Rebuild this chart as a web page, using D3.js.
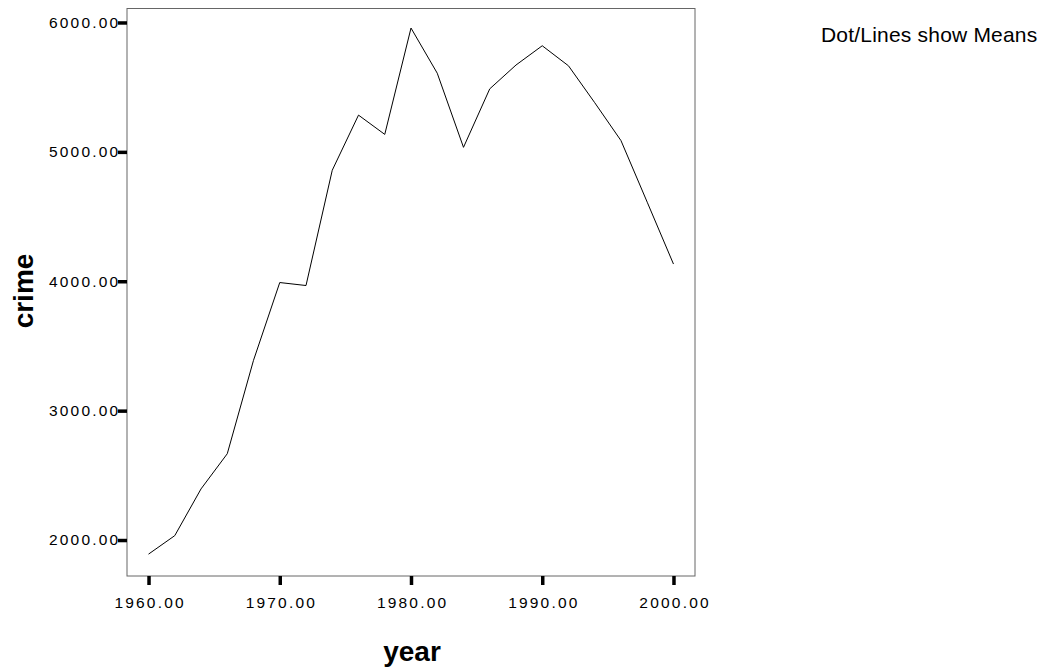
<!DOCTYPE html>
<html>
<head>
<meta charset="utf-8">
<script src="https://cdn.jsdelivr.net/npm/d3@7"></script>
<style>
  body { margin: 0; background: #fff; }
  text { font-family: Arial, "Liberation Sans", sans-serif; }
</style>
</head>
<body>
<div id="chart-container"></div>
<script>
// Values (means by year)
const years = [1960, 1962, 1964, 1966, 1968, 1970, 1972, 1974, 1976, 1978, 1980,
               1982, 1984, 1986, 1988, 1990, 1992, 1994, 1996, 1998, 2000];
const crime = [1891, 2034, 2395, 2667, 3389, 3990, 3967, 4858, 5284, 5135, 5957,
               5608, 5035, 5487, 5671, 5820, 5665, 5380, 5087, 4611, 4133];
const xTicks = [1960, 1970, 1980, 1990, 2000];
const yTicks = [2000, 3000, 4000, 5000, 6000];

const width = 1063;
const height = 669;

const svg = d3.select("#chart-container")
    .append("svg")
        .attr("width", width)
        .attr("height", height);

// plot frame
const frame = { left: 127, right: 695, top: 8.5, bottom: 576 };

const x = d3.scaleLinear()
    .domain([1958.36, 2001.64])
    .range([frame.left, frame.right]);

const y = d3.scaleLinear()
    .domain([1722, 6108])
    .range([frame.bottom, frame.top]);

svg.append("rect")
    .attr("x", frame.left)
    .attr("y", frame.top)
    .attr("width", frame.right - frame.left)
    .attr("height", frame.bottom - frame.top)
    .attr("fill", "none")
    .attr("stroke", "#666")
    .attr("stroke-width", 1);

// axes (SPSS-style thick ticks, no domain line)
const xAxis = svg.append("g")
    .attr("transform", `translate(0,${frame.bottom})`)
    .call(d3.axisBottom(x).tickValues(xTicks).tickSize(9).tickPadding(12)
        .tickFormat(d3.format(".2f")));

const yAxis = svg.append("g")
    .attr("transform", `translate(${frame.left},0)`)
    .call(d3.axisLeft(y).tickValues(yTicks).tickSize(9).tickPadding(0)
        .tickFormat(d3.format(".2f")));

[xAxis, yAxis].forEach(g => {
    g.select(".domain").remove();
    g.selectAll(".tick line").attr("stroke", "#000").attr("stroke-width", 3.5);
    g.selectAll(".tick text")
        .attr("fill", "#000")
        .attr("font-size", 15.5)
        .style("letter-spacing", "2.2px");
});
xAxis.selectAll(".tick text").attr("dx", "1.1px");
yAxis.selectAll(".tick text").attr("dx", "2.4px");

// mean line
const line = d3.line()
    .x((d, i) => x(years[i]))
    .y(d => y(d));

svg.append("path")
    .datum(crime)
    .attr("fill", "none")
    .attr("stroke", "#000")
    .attr("stroke-width", 1)
    .attr("d", line);

// axis titles
svg.append("text")
    .attr("x", 412)
    .attr("y", 661)
    .attr("text-anchor", "middle")
    .attr("font-size", 28)
    .attr("font-weight", "bold")
    .text("year");

svg.append("text")
    .attr("transform", "translate(33,291) rotate(-90)")
    .attr("text-anchor", "middle")
    .attr("font-size", 28)
    .attr("font-weight", "bold")
    .text("crime");

// note
svg.append("text")
    .attr("x", 821)
    .attr("y", 42)
    .attr("font-size", 21)
    .style("letter-spacing", "0.2px")
    .text("Dot/Lines show Means");
</script>
</body>
</html>
